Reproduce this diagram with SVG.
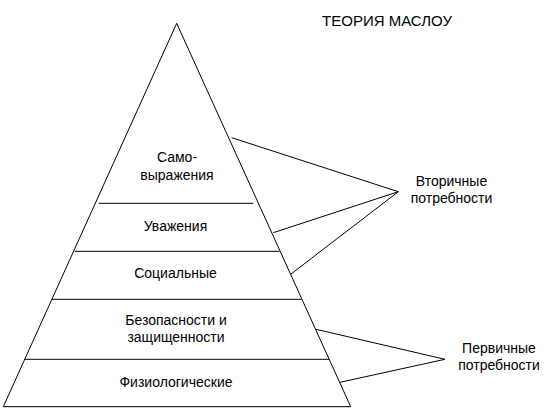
<svg xmlns="http://www.w3.org/2000/svg" width="556" height="409" viewBox="0 0 556 409">
<style>
.ln{stroke:#000;stroke-width:1;fill:none}
text{font-family:"Liberation Sans",Arial,sans-serif;font-size:14px;fill:#000;text-anchor:middle}
#title{font-size:15px}
</style>
<rect width="556" height="409" fill="#fff"/>
<text id="title" x="387" y="26">ТЕОРИЯ МАСЛОУ</text>
<g id="pyramid">
<polygon class="ln" points="176.7,23.3 350.7,406.7 3.3,406.7"/>
</g>
<g id="level5"><line class="ln" x1="98.7" y1="203.3" x2="253.3" y2="203.3"/><text x="177" y="162">Само-</text><text x="177" y="179.5">выражения</text></g>
<g id="level4"><line class="ln" x1="74.7" y1="251.3" x2="279.5" y2="251.3"/><text x="175.5" y="230.7">Уважения</text></g>
<g id="level3"><line class="ln" x1="52" y1="299.3" x2="301.5" y2="299.3"/><text x="175.5" y="278.3">Социальные</text></g>
<g id="level2"><line class="ln" x1="24.5" y1="359.3" x2="329" y2="359.3"/><text x="176" y="325">Безопасности и</text><text x="176" y="341.7">защищенности</text></g>
<g id="level1"><text x="176" y="387.3">Физиологические</text></g>
<g id="secondary"><text x="451.5" y="185.7">Вторичные</text><text x="451.5" y="203.3">потребности</text></g>
<g id="primary"><text x="499" y="353.3">Первичные</text><text x="499" y="370">потребности</text></g>
<g id="connectors">
<polyline class="ln" points="231.7,137.7 398.3,191.7 273.3,232.7"/>
<line class="ln" x1="398.3" y1="191.7" x2="291" y2="274"/>
<polyline class="ln" points="316,329.3 445,359.3 340,382.3"/>
</g>
</svg>
